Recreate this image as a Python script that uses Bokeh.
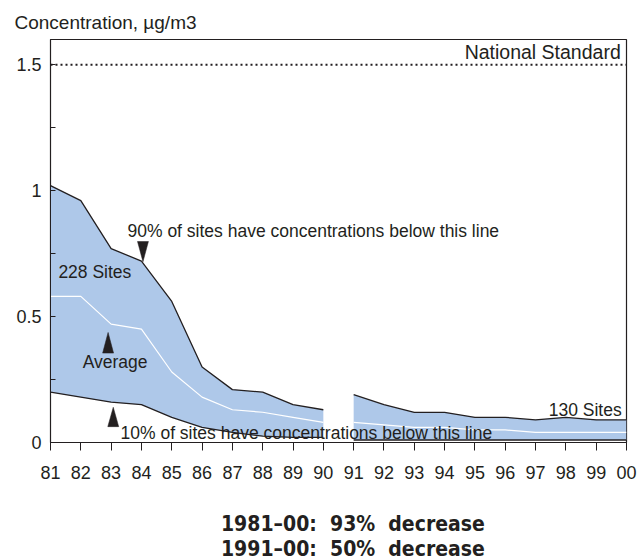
from bokeh.plotting import figure
from bokeh.layouts import column
from bokeh.models import Range1d, FixedTicker, CustomJSTickFormatter, Label, Span, Title
from bokeh.embed import file_html
from bokeh.resources import INLINE

# ---- data ----
years_a = [81, 82, 83, 84, 85, 86, 87, 88, 89, 90]
p90_a   = [1.02, 0.96, 0.77, 0.72, 0.56, 0.30, 0.21, 0.20, 0.15, 0.13]
avg_a   = [0.58, 0.58, 0.47, 0.45, 0.28, 0.18, 0.13, 0.12, 0.10, 0.08]
p10_a   = [0.20, 0.18, 0.16, 0.15, 0.10, 0.06, 0.04, 0.025, 0.02, 0.02]

years_b = [91, 92, 93, 94, 95, 96, 97, 98, 99, 100]
p90_b   = [0.19, 0.15, 0.12, 0.12, 0.10, 0.10, 0.09, 0.10, 0.09, 0.09]
avg_b   = [0.08, 0.07, 0.06, 0.06, 0.05, 0.05, 0.04, 0.04, 0.04, 0.04]
p10_b   = [0.01, 0.01, 0.01, 0.01, 0.01, 0.01, 0.01, 0.01, 0.01, 0.01]

year_ticks = list(range(81, 101))
year_labels = ["81", "82", "83", "84", "85", "86", "87", "88", "89", "90",
               "91", "92", "93", "94", "95", "96", "97", "98", "99", "00"]
standard = 1.5
summary = ["1981–00:\u00a0 93%\u00a0 decrease", "1991–00:\u00a0 50%\u00a0 decrease"]

FONT = "Liberation Sans"
DARK = "#231f20"
FILL = "#aec8e9"

p = figure(width=640, height=490, output_backend="svg", toolbar_location=None,
           x_range=Range1d(81, 100), y_range=Range1d(0, 1.6),
           min_border_left=50, min_border_right=14, min_border_top=39,
           min_border_bottom=48)
p.background_fill_color = "white"
p.border_fill_color = "white"
p.grid.visible = False
p.outline_line_color = DARK
p.outline_line_width = 1.2

# title
p.title = Title(text="Concentration, µg/m3", align="left", offset=-36,
                text_font=FONT, text_font_size="19px", text_font_style="normal",
                text_color=DARK, standoff=14)

# bands
for yrs, lo, hi, av in [(years_a, p10_a, p90_a, avg_a), (years_b, p10_b, p90_b, avg_b)]:
    p.varea(x=yrs, y1=lo, y2=hi, fill_color=FILL)
    p.line(yrs, hi, line_color=DARK, line_width=1.3)
    p.line(yrs, lo, line_color=DARK, line_width=1.3)
    p.line(yrs, av, line_color="white", line_width=1.2)

# national standard
p.add_layout(Span(location=standard, dimension="width", line_color=DARK,
                  line_width=2, line_dash="2 3"))

# axes
xa = p.xaxis[0]
xa.ticker = FixedTicker(ticks=year_ticks)
xa.major_label_overrides = {t: l for t, l in zip(year_ticks, year_labels)}
xa.major_tick_in = 0
xa.major_tick_out = 8
xa.minor_tick_line_color = None
xa.axis_line_color = DARK
xa.major_tick_line_color = DARK
xa.major_label_text_font = FONT
xa.major_label_text_font_size = "18px"
xa.major_label_text_color = DARK
xa.major_label_standoff = 15

ya = p.yaxis[0]
ya.ticker = FixedTicker(ticks=[0, 0.5, 1, 1.5], minor_ticks=[0.25, 0.75, 1.25])
ya.formatter = CustomJSTickFormatter(code="return String(Math.round(tick*100)/100);")
ya.major_tick_in = 5
ya.major_tick_out = 0
ya.minor_tick_in = 5
ya.minor_tick_out = 0
ya.axis_line_color = DARK
ya.major_tick_line_color = DARK
ya.minor_tick_line_color = DARK
ya.major_label_text_font = FONT
ya.major_label_text_font_size = "18px"
ya.major_label_text_color = DARK
ya.major_label_standoff = 9

def lab(fig, x, y, text, align="left", size="17.5px", font=FONT, style="normal"):
    fig.add_layout(Label(x=x, y=y, text=text, text_align=align, text_baseline="middle",
                         text_font=font, text_font_size=size, text_color=DARK,
                         text_font_style=style))

lab(p, 99.81, 1.552, "National Standard", align="right", size="19.5px")
lab(p, 83.54, 0.838, "90% of sites have concentrations below this line")
lab(p, 81.26, 0.675, "228 Sites")
lab(p, 82.06, 0.321, "Average")
lab(p, 83.31, 0.036, "10% of sites have concentrations below this line")
lab(p, 99.84, 0.131, "130 Sites", align="right")

# arrow markers (tip x, tip y, base y)
arrows = [(84.05, 0.718, 0.798), (82.9, 0.437, 0.355), (83.07, 0.140, 0.063)]
hw = 0.18
xs = [[ax - hw, ax + hw, ax] for ax, tip, base in arrows]
ys = [[base, base, tip] for ax, tip, base in arrows]
p.patches(xs, ys, fill_color=DARK, line_color=DARK, line_width=0.5)

# summary panel below the chart (pixel-like coordinates)
q = figure(width=640, height=70, output_backend="svg", toolbar_location=None,
           x_range=Range1d(0, 640), y_range=Range1d(0, 70),
           min_border_left=0, min_border_right=0, min_border_top=0, min_border_bottom=0)
q.axis.visible = False
q.grid.visible = False
q.outline_line_color = None
q.background_fill_color = "white"
q.border_fill_color = "white"
for txt, yy in zip(summary, [37, 12]):
    lab(q, 336, yy, txt, align="center", size="21px",
        font="'DejaVu Sans Condensed', 'DejaVu Sans'", style="bold")

layout = column(p, q, spacing=0)
open("out.html", "w").write(file_html(layout, INLINE))
